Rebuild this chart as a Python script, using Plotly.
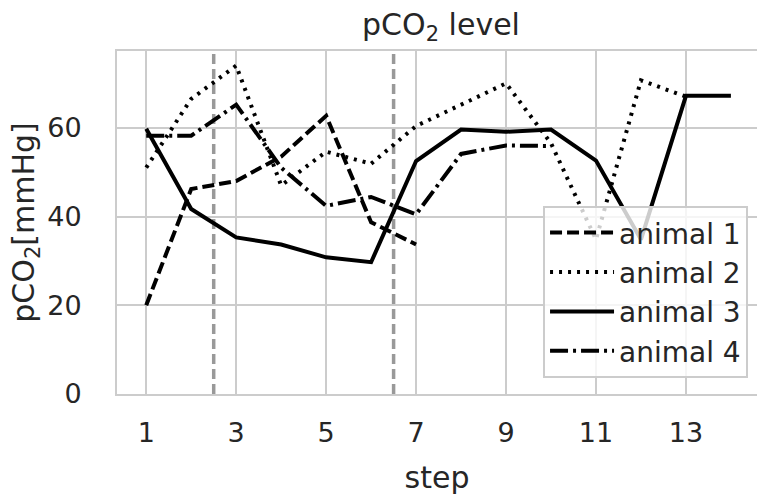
import plotly.graph_objects as go

steps = list(range(1, 15))
animal_1 = [20.0, 46.2, 48.0, 53.5, 62.7, 38.7, 33.7, None, None, None, None, None, None, None]
animal_2 = [51.0, 66.5, 74.0, 47.0, 54.6, 51.9, 60.4, 65.2, 70.0, 56.5, 34.8, 70.7, 67.0, None]
animal_3 = [59.8, 41.7, 35.3, 33.7, 30.8, 29.7, 52.5, 59.6, 59.1, 59.6, 52.6, 34.8, 67.2, 67.2]
animal_4 = [58.2, 58.2, 65.2, 51.0, 42.4, 44.4, 40.5, 54.1, 56.0, 55.9, None, None, None, None]
phase_bounds = [2.5, 6.5]
x_ticks = [1, 3, 5, 7, 9, 11, 13]
y_ticks = [0, 20, 40, 60]

series = [
    ("animal 1", animal_1, "12px,5px"),
    ("animal 2", animal_2, "3px,6px"),
    ("animal 3", animal_3, "solid"),
    ("animal 4", animal_4, "18px,5px,3px,5px"),
]

FONT = "DejaVu Sans"
TXT = "#262626"
GRID = "#cccccc"

fig = go.Figure()
for name, vals, dash in series:
    fig.add_trace(go.Scatter(
        x=steps, y=vals, mode="lines", name=name,
        line=dict(color="black", width=4, dash=dash),
        connectgaps=False,
    ))

for xb in phase_bounds:
    fig.add_shape(type="line", xref="x", yref="paper", x0=xb, x1=xb, y0=0, y1=1,
                  line=dict(color="#999999", width=3.5, dash="10px,5px"), layer="below")

fig.update_layout(
    width=757, height=495,
    margin=dict(l=117, r=0, t=51, b=101),
    paper_bgcolor="white", plot_bgcolor="white",
    font=dict(family=FONT, color=TXT, size=27),
    title=dict(text="pCO<sub>2</sub> level", x=441 / 757, xanchor="center",
               y=1 - 24 / 495, yanchor="middle", yref="container",
               font=dict(size=30, color=TXT, family=FONT)),
    showlegend=True,
    legend=dict(x=0.986, y=0.047, xanchor="right", yanchor="bottom",
                bgcolor="rgba(255,255,255,0.8)", bordercolor=GRID, borderwidth=2,
                itemwidth=64,
                font=dict(size=28, color=TXT, family=FONT)),
)

fig.update_xaxes(
    range=[0.35, 14.58], tickvals=x_ticks, showgrid=True, gridcolor=GRID, gridwidth=2,
    showline=True, linecolor=GRID, linewidth=2, mirror=True, zeroline=False,
    ticks="", ticklabelstandoff=14,
    title=dict(text="step", font=dict(size=30, color=TXT, family=FONT), standoff=20),
    tickfont=dict(size=27, color=TXT, family=FONT),
)
fig.update_yaxes(
    range=[0, 77.3], tickvals=y_ticks, showgrid=True, gridcolor=GRID, gridwidth=2,
    showline=True, linecolor=GRID, linewidth=2, mirror=False, zeroline=False,
    ticks="", ticklabelstandoff=28,
    title=dict(text="pCO<sub>2</sub>[mmHg]", font=dict(size=30, color=TXT, family=FONT), standoff=4),
    tickfont=dict(size=27, color=TXT, family=FONT),
)

fig.write_html("out.html")
